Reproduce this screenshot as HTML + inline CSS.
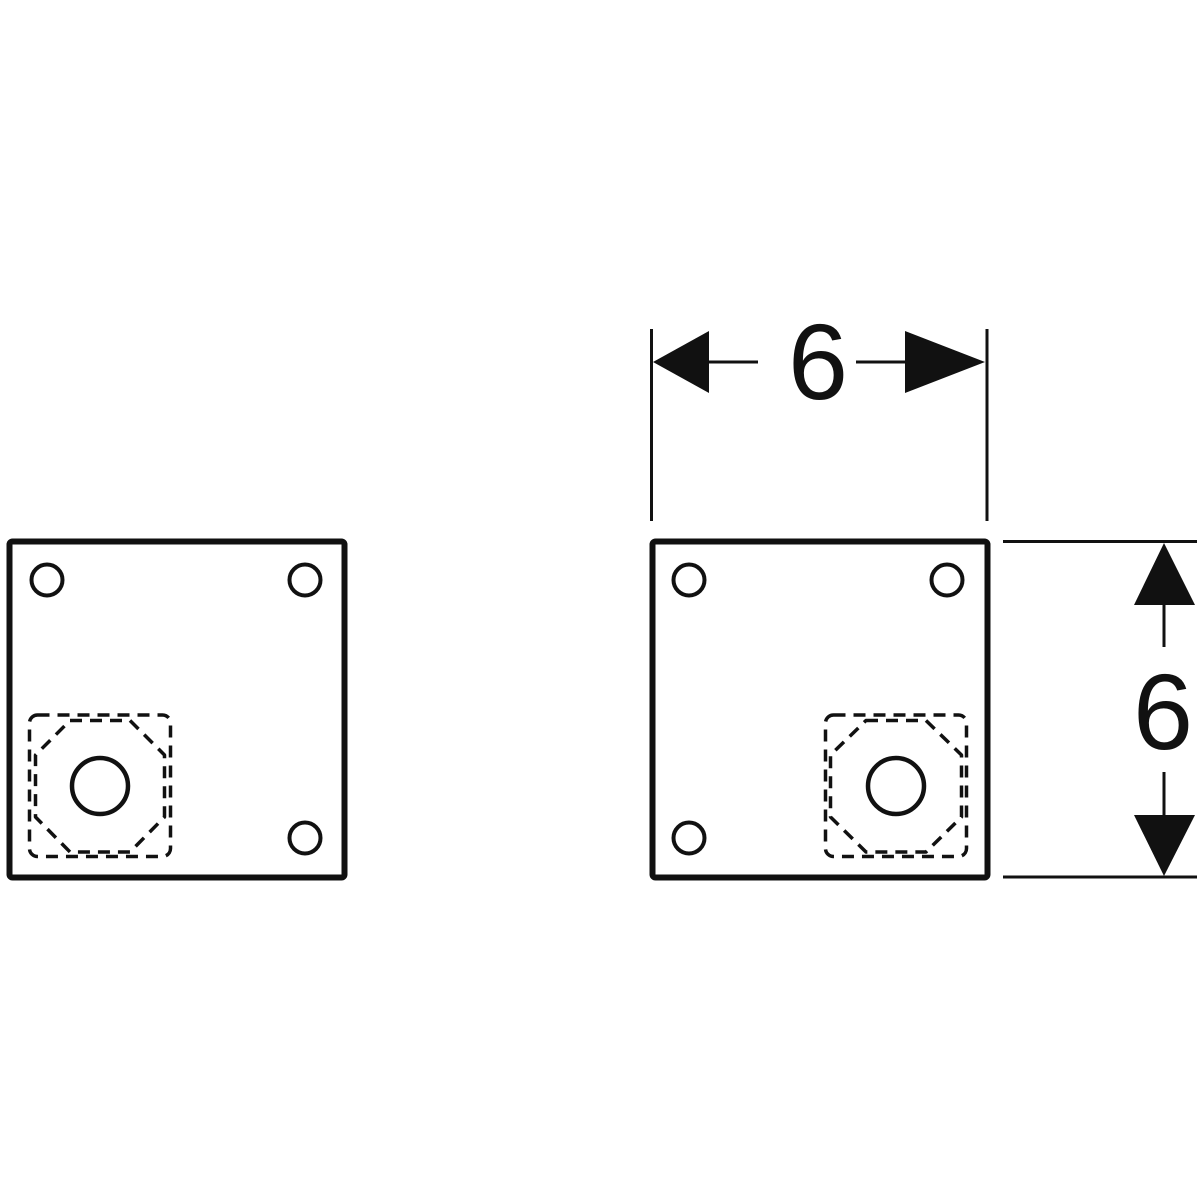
<!DOCTYPE html>
<html><head><style>html,body{margin:0;padding:0;background:#fff}svg{display:block}</style></head>
<body>
<svg width="1200" height="1200" viewBox="0 0 1200 1200" xmlns="http://www.w3.org/2000/svg">
<g fill="none" stroke="#111">
  <rect x="9.5" y="541.5" width="335" height="336" rx="3" stroke-width="6"/>
  <circle cx="47" cy="580" r="15.5" stroke-width="4"/>
  <circle cx="305" cy="580" r="15.5" stroke-width="4"/>
  <circle cx="305" cy="838" r="15.5" stroke-width="4"/>
  <circle cx="100" cy="786" r="28" stroke-width="4.5"/>
  <rect x="29.5" y="715" width="141" height="141.5" rx="8" stroke-width="3.5" stroke-dasharray="12,8"/>
  <path d="M70,720.5 H130 L164.5,755 V817 L130,852 H70 L35.5,817 V755 Z" stroke-width="3.5" stroke-dasharray="12,8" stroke-linejoin="round"/>
</g>
<g fill="none" stroke="#111">
  <rect x="652.5" y="541.5" width="335" height="336" rx="3" stroke-width="6"/>
  <circle cx="689" cy="580" r="15.5" stroke-width="4"/>
  <circle cx="947" cy="580" r="15.5" stroke-width="4"/>
  <circle cx="689" cy="838" r="15.5" stroke-width="4"/>
  <circle cx="896" cy="786" r="28" stroke-width="4.5"/>
  <rect x="825.5" y="715" width="141" height="141.5" rx="8" stroke-width="3.5" stroke-dasharray="12,8"/>
  <path d="M866,720.5 H926 L961.5,755 V817 L926,852 H866 L830.5,817 V755 Z" stroke-width="3.5" stroke-dasharray="12,8" stroke-linejoin="round"/>
</g>
<g stroke="#111" stroke-width="3" fill="#111">
  <line x1="651.5" y1="329" x2="651.5" y2="521"/>
  <line x1="987" y1="329" x2="987" y2="521"/>
  <line x1="709" y1="362" x2="758" y2="362"/>
  <line x1="856" y1="362" x2="905" y2="362"/>
  <polygon points="653,362 709,331 709,393" stroke="none"/>
  <polygon points="985,362 905,331 905,393" stroke="none"/>
  <line x1="1003" y1="541.5" x2="1197" y2="541.5"/>
  <line x1="1003" y1="877" x2="1197" y2="877"/>
  <line x1="1164" y1="605" x2="1164" y2="647"/>
  <line x1="1164" y1="772" x2="1164" y2="815"/>
  <polygon points="1164,543 1134,605 1195,605" stroke="none"/>
  <polygon points="1164,876 1134,815 1195,815" stroke="none"/>
</g>
<text x="818" y="399" font-family="Liberation Sans, sans-serif" font-size="108" text-anchor="middle" fill="#111">6</text>
<text x="1163" y="749" font-family="Liberation Sans, sans-serif" font-size="108" text-anchor="middle" fill="#111">6</text>
</svg>
</body></html>
